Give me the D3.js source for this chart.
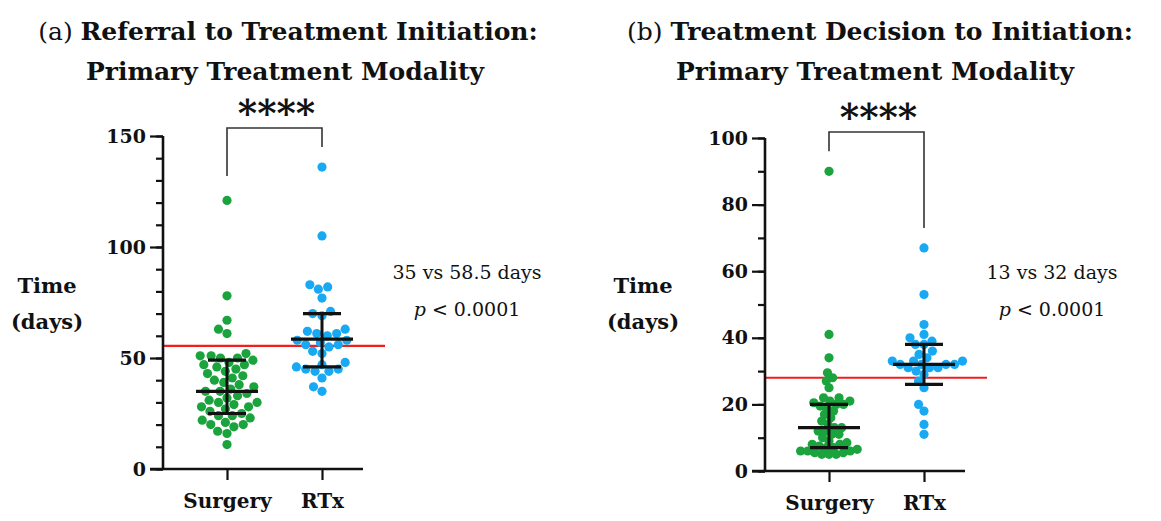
<!DOCTYPE html>
<html lang="en">
<head>
    <meta charset="UTF-8">
    <script src="https://cdn.jsdelivr.net/npm/d3@7"></script>
    <title>Time to treatment</title>
    <style>
        body { margin: 0; background: white; }
        svg text { font-family: "DejaVu Serif", serif; fill: #111; }
    </style>
</head>
<body>
    <svg id="chart" width="1161" height="521"></svg>

    <script>
        // categories and values
        const categories = ["Surgery", "RTx"];

        // (a) referral to treatment initiation (days)
        const surgeryA = [121, 78, 67, 63, 61, 52, 51, 51, 50, 50, 49, 48, 47, 47, 46, 45, 44, 43, 42,
            41, 40, 39, 38, 37, 36, 35, 35, 34, 33, 32, 31, 30, 30, 29, 28, 28, 27, 26, 25, 24, 24,
            23, 22, 21, 20, 20, 19, 17, 16, 11];
        const rtxA = [136, 105, 83, 82, 81, 77, 71, 70, 69, 63, 62, 61, 61, 60, 58, 58, 57, 56, 56, 55,
            53, 52, 48, 47, 46, 45, 45, 44, 44, 41, 37, 35];
        const mediansA = [35, 58.5];
        const q1A = [25, 46];
        const q3A = [49, 70];
        const refLineA = 55.5;

        // (b) treatment decision to initiation (days)
        const surgeryB = [90, 41, 34, 29.5, 28, 27, 25, 22, 22, 21, 21, 20.5, 20, 20, 19.5, 19, 18, 17, 16,
            15, 14, 13, 13, 12, 12, 11, 11, 10, 9, 8.5, 8, 8, 7.5, 7, 7, 6.5, 6, 6, 6, 5.5, 5.5, 5, 5, 5];
        const rtxB = [67, 53, 44, 41, 40, 39, 38, 38, 36, 35, 34, 33, 33, 33, 32, 32, 32, 32, 31, 31, 31,
            30, 29, 27, 25, 20, 18, 14, 11];
        const mediansB = [13, 32];
        const q1B = [7, 26];
        const q3B = [20, 38];
        const refLineB = 28;

        const ticksA = [0, 50, 100, 150];
        const ticksB = [0, 20, 40, 60, 80, 100];

        const titlesA = ["(a) ", "Referral to Treatment Initiation:", "Primary Treatment Modality"];
        const titlesB = ["(b) ", "Treatment Decision to Initiation:", "Primary Treatment Modality"];
        const notesA = ["35 vs 58.5 days", "p", " < 0.0001"];
        const notesB = ["13 vs 32 days", "p", " < 0.0001"];

        const green = "#1ba33d";
        const blue = "#19a9f3";

        const svg = d3.select("#chart");

        // simple beeswarm: place each dot as close to the centre as it can go
        const swarm = (values, y, r) => {
            const placed = [];
            values.slice().sort((a, b) => a - b).forEach(v => {
                const py = y(v);
                const cands = [0];
                placed.forEach(p => {
                    const dy = Math.abs(p.y - py);
                    if (dy < 2 * r) {
                        const dx = Math.sqrt(4 * r * r - dy * dy);
                        cands.push(p.x + dx, p.x - dx);
                    }
                });
                cands.sort((a, b) => Math.abs(a) - Math.abs(b) || a - b);
                const ok = cands.find(c => placed.every(p => (p.x - c) ** 2 + (p.y - py) ** 2 >= 4 * r * r - 0.01));
                placed.push({ x: ok, y: py });
            });
            return placed;
        };

        const drawPanel = (opt) => {
            const g = svg.append("g");
            const y = d3.scaleLinear().domain([0, opt.yMax]).range([opt.y0, opt.y1]);
            const x = d3.scalePoint().domain(categories).range([opt.ax + 64, opt.ax + 159]);
            const axRight = opt.ax + 200;

            // titles
            const t1 = g.append("text").attr("x", opt.titleX).attr("y", 40)
                .attr("text-anchor", "middle").style("font-size", "25px");
            t1.append("tspan").text(opt.titles[0]);
            t1.append("tspan").style("font-weight", "bold").text(opt.titles[1]);
            g.append("text").attr("x", opt.titleX2).attr("y", 80)
                .attr("text-anchor", "middle").style("font-size", "25px").style("font-weight", "bold")
                .text(opt.titles[2]);

            // red reference line
            g.append("line")
                .attr("x1", opt.ax).attr("x2", axRight + 22)
                .attr("y1", y(opt.ref)).attr("y2", y(opt.ref))
                .attr("stroke", "#f21d1d").attr("stroke-width", 2.2);

            // dots
            [opt.surgery, opt.rtx].forEach((vals, i) => {
                g.append("g").selectAll("circle")
                    .data(swarm(vals, y, opt.gap[i]))
                    .join("circle")
                    .attr("cx", d => x(categories[i]) + d.x)
                    .attr("cy", d => d.y)
                    .attr("r", 4.6)
                    .attr("fill", i === 0 ? green : blue);
            });

            // median and IQR
            categories.forEach((c, i) => {
                const cx = x(c);
                g.append("line").attr("x1", cx).attr("x2", cx)
                    .attr("y1", y(opt.q1[i])).attr("y2", y(opt.q3[i]))
                    .attr("stroke", "#111").attr("stroke-width", 3);
                [[opt.q1[i], 19], [opt.q3[i], 19], [opt.med[i], 31]].forEach(([v, hw]) => {
                    g.append("line").attr("x1", cx - hw).attr("x2", cx + hw)
                        .attr("y1", y(v)).attr("y2", y(v))
                        .attr("stroke", "#111").attr("stroke-width", 3.2);
                });
            });

            // y axis
            const yAxis = g.append("g").attr("transform", `translate(${opt.ax},0)`)
                .call(d3.axisLeft(y).tickValues(opt.ticks).tickSize(13).tickPadding(4));
            g.append("g").attr("transform", `translate(${opt.ax},0)`)
                .call(d3.axisLeft(y).tickValues(d3.range(0, opt.yMax + 1, 10)).tickSize(7).tickFormat(""))
                .select(".domain").remove();
            yAxis.selectAll("text").style("font-size", "19px").style("font-weight", "bold")
                .style("font-family", "DejaVu Serif");
            g.selectAll(".tick line").attr("stroke", "#111").attr("stroke-width", 2.2);
            yAxis.select(".domain").attr("stroke", "#111").attr("stroke-width", 2.6)
                .attr("d", `M0,${opt.y0}V${opt.y1}`);

            // x axis
            const xAxis = g.append("g").attr("transform", `translate(0,${opt.y0})`)
                .call(d3.axisBottom(x).tickSize(11).tickPadding(14));
            xAxis.select(".domain").attr("stroke", "#111").attr("stroke-width", 2.6)
                .attr("d", `M${opt.ax - 13},0H${axRight}`);
            xAxis.selectAll(".tick line").attr("stroke", "#111").attr("stroke-width", 2.2);
            xAxis.selectAll("text").style("font-size", "20px").style("font-weight", "bold")
                .style("font-family", "DejaVu Serif").attr("fill", "#111");

            // significance bracket
            g.append("path")
                .attr("d", `M${x(categories[0])},${y(opt.bracket[0])}V${opt.bracketTop}H${x(categories[1])}V${y(opt.bracket[1])}`)
                .attr("fill", "none").attr("stroke", "#333").attr("stroke-width", 1.6);
            g.append("text").attr("x", (x(categories[0]) + x(categories[1])) / 2 + 2).attr("y", opt.bracketTop - 2)
                .attr("text-anchor", "middle").style("font-size", "37px").style("font-weight", "bold")
                .text("****");

            // y label
            g.append("text").attr("x", opt.labelX).attr("y", 293).attr("text-anchor", "middle")
                .style("font-size", "21px").style("font-weight", "bold").text("Time");
            g.append("text").attr("x", opt.labelX).attr("y", 329).attr("text-anchor", "middle")
                .style("font-size", "21px").style("font-weight", "bold").text("(days)");

            // side notes
            g.append("text").attr("x", opt.noteX).attr("y", 279).attr("text-anchor", "middle")
                .style("font-size", "19px").text(opt.notes[0]);
            const n2 = g.append("text").attr("x", opt.noteX).attr("y", 316).attr("text-anchor", "middle")
                .style("font-size", "19px");
            n2.append("tspan").style("font-style", "italic").text(opt.notes[1]);
            n2.append("tspan").text(opt.notes[2]);
        };

        drawPanel({
            ax: 163, y0: 469, y1: 136, yMax: 150, ticks: ticksA, gap: [4.8, 4.8],
            surgery: surgeryA, rtx: rtxA, med: mediansA, q1: q1A, q3: q3A, ref: refLineA,
            titles: titlesA, titleX: 288, titleX2: 285, notes: notesA, noteX: 467, labelX: 47,
            bracket: [132, 145], bracketTop: 128
        });

        drawPanel({
            ax: 765, y0: 471, y1: 138, yMax: 100, ticks: ticksB, gap: [3.6, 4.3],
            surgery: surgeryB, rtx: rtxB, med: mediansB, q1: q1B, q3: q3B, ref: refLineB,
            titles: titlesB, titleX: 880, titleX2: 875, notes: notesB, noteX: 1052, labelX: 643,
            bracket: [96, 73], bracketTop: 132
        });
    </script>
</body>
</html>
